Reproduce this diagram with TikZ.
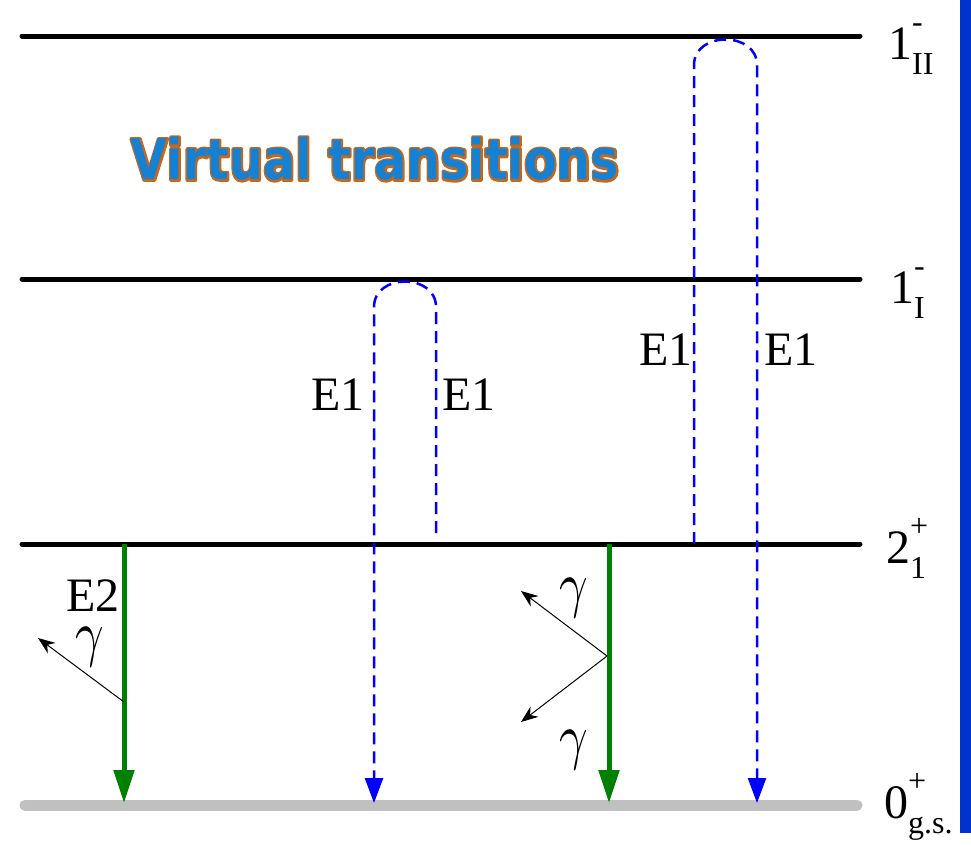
\documentclass[tikz,border=0pt]{standalone}
\usepackage{fontspec}
\usepackage{graphicx}
\setmainfont{Liberation Serif}
\newfontfamily\titlefont{DejaVu Sans}
\usetikzlibrary{arrows.meta}
\definecolor{lvlgray}{RGB}{192,192,192}
\definecolor{ggreen}{RGB}{0,128,0}
\definecolor{barblue}{RGB}{0,51,204}
\definecolor{titleblue}{RGB}{22,128,210}
\definecolor{titleorange}{RGB}{196,104,30}
\newcommand\levlab[3]{#1\raisebox{0.55em}{\fontsize{32}{32}\selectfont\rlap{#2}}\raisebox{-0.33em}{\fontsize{32}{32}\selectfont #3}}
\newcommand\titletext{\scalebox{0.85}[1]{\titlefont\bfseries\fontsize{56}{56}\selectfont Virtual transitions}}
\newcommand\titleoutline{\special{pdf:literal direct 2 Tr 4 w 1 j}\titletext\special{pdf:literal direct 0 Tr}}
\newcommand\gammasym{\scalebox{5}[6.3]{$\gamma$}}
\begin{document}
\begin{tikzpicture}[x=1pt,y=-1pt,
  level/.style={line width=5pt, line cap=round},
  gslevel/.style={line width=11pt, line cap=round, draw=lvlgray},
  decay/.style={line width=5pt, draw=ggreen, -{Triangle[width=20pt,length=33pt,fill=ggreen]}},
  virt/.style={line width=2.5pt, draw=blue, dash pattern=on 12pt off 7pt, -{Triangle[width=18pt,length=25pt,fill=blue]}},
  photon/.style={line width=1pt, -{Stealth[width=13pt,length=17pt]}},
  lab/.style={font=\fontsize{48}{48}\selectfont, inner sep=0pt},
  gam/.style={inner sep=0pt},
  ttl/.style={inner sep=0pt}]
\useasboundingbox (0,0) rectangle (971,844);
\fill[barblue] (960,0) rectangle (971,833);
% levels
\coordinate (L3w) at (22,36);  \coordinate (L3e) at (860,36);
\coordinate (L2w) at (22,279); \coordinate (L2e) at (860,279);
\coordinate (L1w) at (22,544); \coordinate (L1e) at (860,544);
\coordinate (L0w) at (25,805); \coordinate (L0e) at (857,805);
\draw[gslevel] (L0w) -- (L0e);
\draw[level] (L1w) -- (L1e);
\draw[level] (L2w) -- (L2e);
\draw[level] (L3w) -- (L3e);
% level labels
\node[lab, anchor=base west] (t3) at (888,59) {\levlab{1}{-}{II}};
\node[lab, anchor=base west] (t2) at (890,303) {\levlab{1}{-}{I}};
\node[lab, anchor=base west] (t1) at (886,563) {\levlab{2}{+}{1}};
\node[lab, anchor=base west] (t0) at (884,818) {\levlab{0}{+}{g.s.}};
% title
\node[ttl, text=titleorange] (titlebg) at (375,159) {\titleoutline};
\node[ttl, text=titleblue] (title) at (375,159) {\titletext};
% green E2 decays
\coordinate (g1t) at (124,544); \coordinate (g1b) at (124,803);
\coordinate (g2t) at (609,544); \coordinate (g2b) at (609,803);
\draw[decay] (g1t) -- (g1b);
\draw[decay] (g2t) -- (g2b);
% photons
\coordinate (p1s) at (124,702); \coordinate (p1e) at (38,638);
\draw[photon] (p1s) -- (p1e);
\coordinate (p2s) at (607,656); \coordinate (p2a) at (521,591); \coordinate (p2b) at (521,722);
\draw[photon] (p2s) -- (p2a);
\draw[photon] (p2s) -- (p2b);
\node[lab, anchor=base, text depth=0pt, text height=34pt] (e2) at (93,611) {E2};
\node[gam] (gl) at (90,647) {\gammasym};
\node[gam] (gm1) at (574,598) {\gammasym};
\node[gam] (gm2) at (574,750) {\gammasym};
% virtual E1 loop via 1_I
\coordinate (a1) at (436,533); \coordinate (a2) at (436,307);
\coordinate (a3) at (374,307); \coordinate (a4) at (374,803);
\draw[virt] (a1) -- (a2) .. controls (436,273) and (374,273) .. (a3) -- (a4);
% virtual E1 loop via 1_II
\coordinate (b1) at (694,544); \coordinate (b2) at (694,65);
\coordinate (b3) at (757,65); \coordinate (b4) at (757,803);
\draw[virt] (b1) -- (b2) .. controls (694,31) and (757,31) .. (b3) -- (b4);
% E1 labels
\node[lab] (e1a) at (338,395) {E1};
\node[lab] (e1b) at (469,395) {E1};
\node[lab] (e1c) at (666,350) {E1};
\node[lab] (e1d) at (791,350) {E1};
\end{tikzpicture}
\end{document}
